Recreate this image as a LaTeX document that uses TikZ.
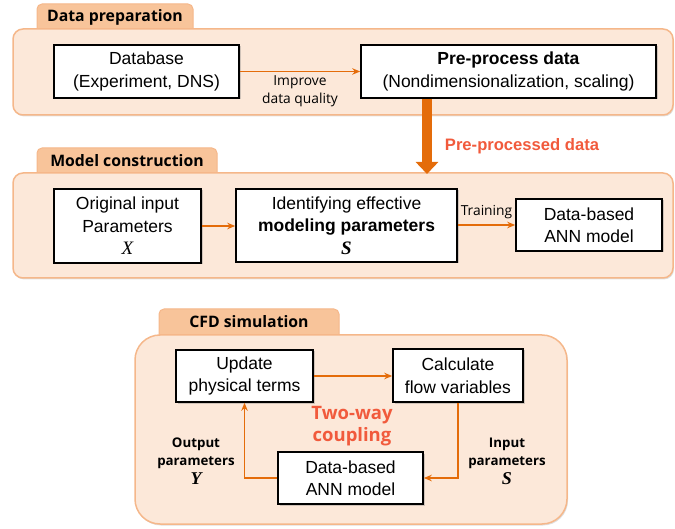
\documentclass[tikz,border=0pt]{standalone}
\usepackage{fontspec}
\setmainfont{Liberation Sans}
\newfontfamily\headfont{Open Sans}
\newfontfamily\varfont{Liberation Serif}
\usetikzlibrary{arrows.meta,shadows}

\definecolor{panelfill}{RGB}{252,232,217}
\definecolor{panelline}{RGB}{245,183,138}
\definecolor{tabfill}{RGB}{248,196,154}
\definecolor{flow}{RGB}{228,108,10}
\definecolor{accent}{RGB}{241,90,60}

\tikzset{
  panel/.style={draw=panelline, line width=1.5pt, fill=panelfill,
    drop shadow={shadow xshift=1pt, shadow yshift=-1.5pt, opacity=0.25}},
  tab/.style={draw=panelline, line width=1pt, fill=tabfill, rounded corners=5pt},
  tabtext/.style={font=\headfont\bfseries\fontsize{15.8}{17}\selectfont, inner sep=0pt},
  box/.style={draw=black, line width=1.6pt, fill=white, align=center,
    inner sep=0pt, font=\fontsize{17.5}{22.5}\selectfont,
    drop shadow={shadow xshift=1.5pt, shadow yshift=-1.5pt, opacity=0.35}},
  flowarrow/.style={draw=flow, line width=1.5pt, -{Stealth[length=8pt,width=6.5pt]}},
  smalllabel/.style={font=\headfont\fontsize{13.8}{18}\selectfont, align=center, inner sep=0pt},
  sidelabel/.style={font=\headfont\bfseries\fontsize{13.3}{18.5}\selectfont, align=center, inner sep=0pt},
  accentlabel/.style={text=accent, align=center, inner sep=0pt}
}

\begin{document}
\begin{tikzpicture}[x=1pt, y=-1pt]
  \useasboundingbox (0,0) rectangle (675,529);

  % ---- Data preparation ----
  \path[tab] (37,40) rectangle (193,4);
  \path[panel, rounded corners=10pt] (13,29) rectangle (673,115);
  \node[tabtext] (tab1) at (115,17) {Data preparation};

  \node[box, minimum width=185pt, minimum height=53pt] (db) at (146.5,71.5)
    {Database\\(Experiment, DNS)};
  \node[box, minimum width=295pt, minimum height=53pt] (pre) at (508.5,71.5)
    {\textbf{Pre-process data}\\(Nondimensionalization, scaling)};
  \draw[flowarrow] (db.east) -- (pre.west);
  \node[smalllabel] (improve) at (300,91) {Improve\\data quality};

  % ---- Model construction ----
  \path[tab] (37,185) rectangle (217,148);
  \path[panel, rounded corners=10pt] (13,173) rectangle (673,278);
  \node[tabtext] (tab2) at (127,161) {Model construction};

  \node[box, minimum width=147pt, minimum height=74pt] (orig) at (127.5,226)
    {Original input\\Parameters\\{\varfont\itshape\fontsize{19}{22.5}\selectfont X}};
  \node[box, minimum width=221pt, minimum height=73pt] (ident) at (346.5,225.5)
    {Identifying effective\\\textbf{modeling parameters}\\{\varfont\bfseries\itshape\fontsize{19}{22.5}\selectfont S}};
  \node[box, minimum width=146pt, minimum height=52pt] (ann1) at (589,225)
    {Data-based\\ANN model};
  \draw[flowarrow] (orig.east) -- (orig.east -| ident.west);
  \draw[flowarrow] (ident.east |- ann1.west) -- (ann1.west);
  \node[smalllabel] (train) at (486.5,212) {Training};

  % pre-processed data handed to model construction
  \coordinate (bigtip) at (427,174);
  \draw[draw=flow, line width=10pt, -{Triangle[length=12pt,width=22pt]}]
    (pre.south -| bigtip) -- (bigtip);
  \node[accentlabel, font=\bfseries\fontsize{16.6}{20}\selectfont] (ppd) at (522,146)
    {Pre-processed data};

  % ---- CFD simulation ----
  \path[tab] (159,348) rectangle (339,309);
  \path[panel, rounded corners=25pt] (135,335) rectangle (567,524);
  \node[tabtext] (tab3) at (249,322) {CFD simulation};

  \node[box, minimum width=137pt, minimum height=52pt] (update) at (244.5,376)
    {Update\\physical terms};
  \node[box, minimum width=130pt, minimum height=53pt] (calc) at (458,375.5)
    {Calculate\\flow variables};
  \node[box, minimum width=145pt, minimum height=52pt] (ann2) at (350.5,478)
    {Data-based\\ANN model};

  \draw[flowarrow] (update.east) -- (update.east -| calc.west);
  \draw[flowarrow] (calc.south) |- (ann2.east);
  \draw[flowarrow] (ann2.west) -| (update.south);

  \node[accentlabel, font=\headfont\bfseries\fontsize{18.5}{21.5}\selectfont] (coupling)
    at (352,426) {Two-way\\coupling};
  \node[sidelabel] (outp) at (196,461)
    {Output\\parameters\\{\varfont\bfseries\itshape\fontsize{18}{19}\selectfont Y}};
  \node[sidelabel] (inp) at (507,461)
    {Input\\parameters\\{\varfont\bfseries\itshape\fontsize{18}{19}\selectfont S}};
\end{tikzpicture}
\end{document}
